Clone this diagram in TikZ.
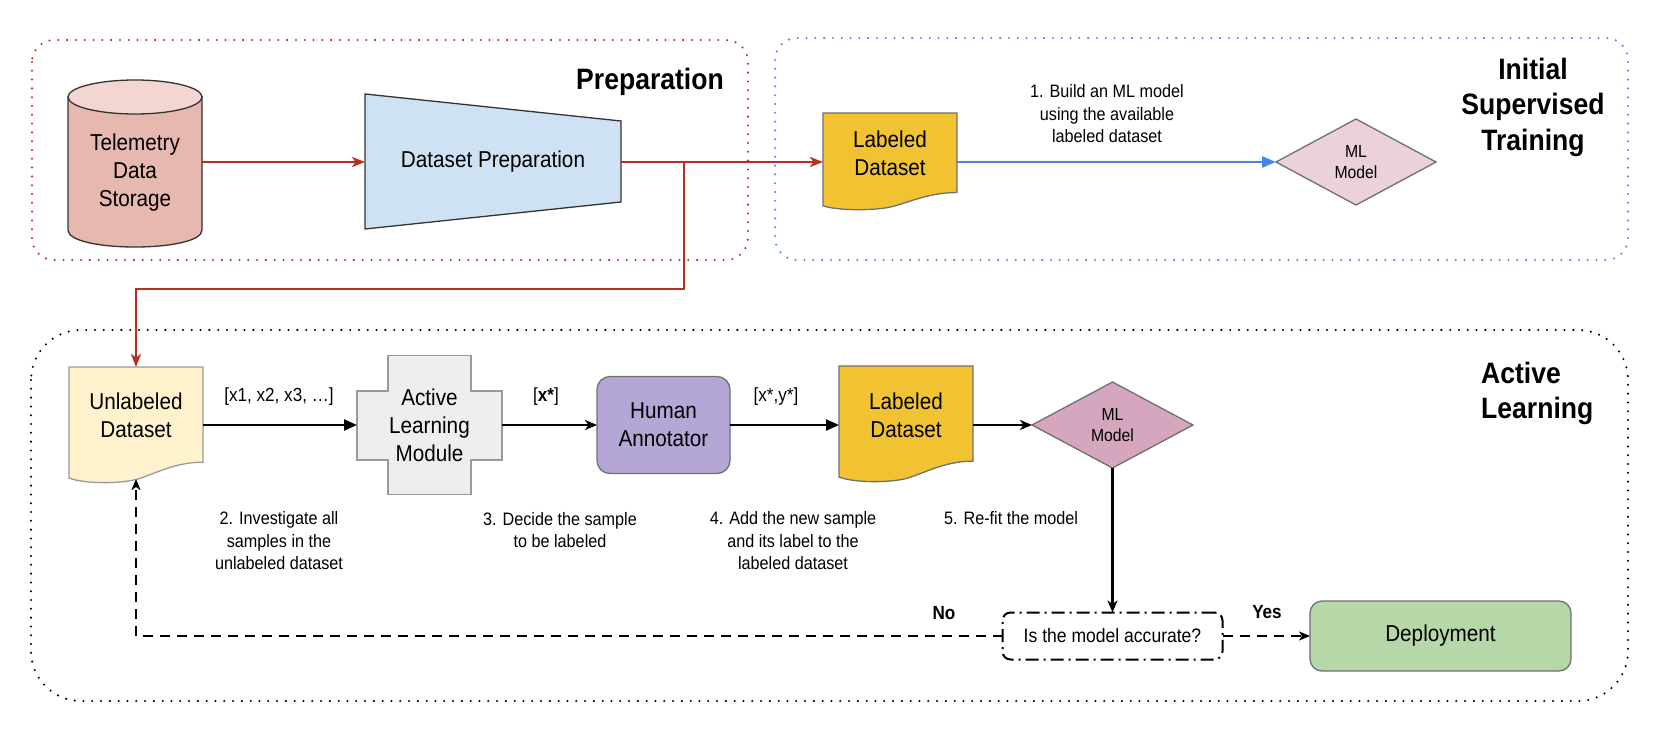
\documentclass[tikz,border=0pt]{standalone}
\usepackage{fontspec}
\setmainfont{Liberation Sans}[FakeStretch=0.9]
\usetikzlibrary{arrows.meta}
\definecolor{redc}{HTML}{B5301F}
\definecolor{bluec}{HTML}{4A86E8}
\definecolor{cylbody}{HTML}{E6B8AF}
\definecolor{cyltop}{HTML}{F3D6D1}
\definecolor{trapfill}{HTML}{CFE2F3}
\definecolor{labfill}{HTML}{F1C232}
\definecolor{unlabfill}{HTML}{FFF2CC}
\definecolor{mlone}{HTML}{EAD1DC}
\definecolor{mltwo}{HTML}{D5A6BD}
\definecolor{almfill}{HTML}{EEEEEE}
\definecolor{hafill}{HTML}{B4A7D6}
\definecolor{depfill}{HTML}{B6D7A8}
\definecolor{edgegray}{HTML}{707070}
\definecolor{lightedge}{HTML}{9A9A9A}

\newcommand{\mydoc}[5]{\draw[#5] (#1,#2) -- ({#1+#3},#2) -- ({#1+#3},{#2+0.82*#4}) .. controls ({#1+0.78*#3},{#2+0.82*#4}) and ({#1+0.62*#3},{#2+0.934*#4}) .. ({#1+0.5*#3},{#2+0.97*#4}) .. controls ({#1+0.38*#3},{#2+1.006*#4}) and ({#1+0.12*#3},{#2+1.01*#4}) .. (#1,{#2+0.957*#4}) -- cycle;}

\begin{document}
\begin{tikzpicture}[x=1pt, y=-1pt,
  box/.style 2 args={draw=none, inner sep=0pt, outer sep=0pt, minimum width=#1pt, minimum height=#2pt},
  nodetxt/.style={font=\fontsize{23}{28}\selectfont, align=center, inner sep=0pt},
  smalltxt/.style={font=\fontsize{17.5}{21.5}\selectfont, align=center, inner sep=0pt},
  steptxt/.style={font=\fontsize{18}{22.5}\selectfont, align=center, inner sep=0pt},
  edgetxt/.style={font=\fontsize{19}{23}\selectfont, inner sep=0pt},
  yesno/.style={font=\bfseries\fontsize{19}{23}\selectfont, inner sep=0pt},
  titletxt/.style={font=\bfseries\fontsize{29.5}{35.5}\selectfont, inner sep=0pt},
  dotbox/.style={line width=2.3pt, line cap=round, dash pattern=on 0pt off 8.8pt},
  shapeline/.style={line width=1.3pt},
  redconn/.style={draw=redc, line width=2.5pt, -{Stealth[length=13pt,width=10pt,inset=3.5pt]}},
  blueconn/.style={draw=bluec, line width=2.8pt, -{Triangle[length=14pt,width=11pt]}},
  blockconn/.style={line width=2.3pt, -{Triangle[length=13pt,width=11pt]}},
  openconn/.style={line width=2.3pt, -{Stealth[length=12pt,width=10pt,inset=3.5pt]}},
  dashconn/.style={line width=2.2pt, dash pattern=on 10pt off 7pt, -{Stealth[length=11pt,width=9pt,inset=3pt]}}
]
\fill[white] (0,0) rectangle (1664,738);
\useasboundingbox (0,0) rectangle (1664,738);

% group boxes
\draw[dotbox, draw=redc, rounded corners=22pt] (32,40) rectangle (748,260);
\draw[dotbox, draw=bluec, rounded corners=22pt] (775,38) rectangle (1628,260);
\draw[dotbox, draw=black, rounded corners=50pt] (31,330) rectangle (1628,701);

% cylinder
\draw[shapeline, draw=black!80, fill=cylbody] (68,97) -- (68,230) .. controls (68,252.67) and (202,252.67) .. (202,230) -- (202,97) -- cycle;
\draw[shapeline, draw=black!80, fill=cyltop] (135,97) ellipse [x radius=67pt, y radius=17pt];

% trapezoid
\draw[shapeline, draw=black!80, fill=trapfill] (365,94) -- (621,121) -- (621,202) -- (365,229) -- cycle;

% documents
\mydoc{823}{113}{134}{97}{shapeline, draw=edgegray, fill=labfill}
\mydoc{69}{367}{134}{116}{shapeline, draw=lightedge, fill=unlabfill}
\mydoc{839}{366}{134}{116}{shapeline, draw=edgegray, fill=labfill}

% diamonds
\draw[shapeline, draw=edgegray, fill=mlone] (1276,162) -- (1356,119) -- (1436,162) -- (1356,205) -- cycle;
\draw[shapeline, draw=edgegray, fill=mltwo] (1032,425) -- (1112.5,382) -- (1193,425) -- (1112.5,468) -- cycle;

% cross (active learning module)
\draw[shapeline, draw=lightedge, fill=almfill] (388,355.5) -- (471,355.5) -- (471,391) -- (502,391) -- (502,460) -- (471,460) -- (471,494.5) -- (388,494.5) -- (388,460) -- (357,460) -- (357,391) -- (388,391) -- cycle;

% nodes
\node[box={134}{166}] (tds) at (135,162) {};
\node[nodetxt] (tdst) at (135,173) {Telemetry\\Data\\Storage};
\node[box={256}{135}, nodetxt] (dp) at (493,162) {Dataset Preparation};
\node[box={134}{98}] (ld1) at (890,162) {};
\node[nodetxt] (ld1t) at (890,153) {Labeled\\Dataset};
\node[box={160}{86}, smalltxt] (ml1) at (1356,162) {ML\\Model};

\node[box={134}{116}] (ul) at (136,425) {};
\node[nodetxt] (ult) at (136,415.5) {Unlabeled\\Dataset};
\node[box={145}{139}, nodetxt] (alm) at (429.5,425) {Active\\Learning\\Module};
\node[box={133}{97}, nodetxt, draw=edgegray, fill=hafill, rounded corners=13pt, line width=1.3pt] (ha) at (663.5,425) {Human\\Annotator};
\node[box={134}{118}] (ld2) at (906,425) {};
\node[nodetxt] (ld2t) at (906,415) {Labeled\\Dataset};
\node[box={161}{86}, smalltxt] (ml2) at (1112.5,425) {ML\\Model};
\node[box={220}{47}, draw=black, fill=white, rounded corners=8pt, line width=2pt, dash pattern=on 13pt off 5pt on 2pt off 5pt, font=\fontsize{19.5}{23}\selectfont] (dec) at (1112.5,636) {Is the model accurate?};
\node[box={261}{70}, nodetxt, draw=edgegray, fill=depfill, rounded corners=12pt, line width=1.3pt] (dep) at (1440.5,636) {Deployment};

% titles
\node[titletxt] (tprep) at (650,82) {Preparation};
\node[titletxt, align=center] (tist) at (1533,107) {Initial\\Supervised\\Training};
\node[titletxt, align=left, anchor=west] (tal) at (1481,393.5) {Active\\Learning};

% labels
\node[steptxt] (s1) at (1107,114) {1. Build an ML model\\using the available\\labeled dataset};
\node[steptxt] (s2) at (279,541) {2. Investigate all\\samples in the\\unlabeled dataset};
\node[steptxt] (s3) at (560,530) {3. Decide the sample\\to be labeled};
\node[steptxt] (s4) at (793,541) {4. Add the new sample\\and its label to the\\labeled dataset};
\node[steptxt] (s5) at (1011,518) {5. Re-fit the model};
\node[edgetxt] (e1) at (279,397) {[x1, x2, x3, …]};
\node[edgetxt] (e2) at (546,397) {[\textbf{x*}]};
\node[edgetxt] (e3) at (776,397) {[x*,y*]};
\node[yesno] (no) at (944,613) {No};
\node[yesno] (yes) at (1267,612) {Yes};

% connectors
\draw[redconn] (tds.east) -- (dp.west);
\draw[redconn] (dp.east) -- (ld1.west);
\coordinate (j1) at (684,162);
\coordinate (j2) at (684,289);
\draw[redconn] (j1) -- (j2) -| (ul.north);
\draw[blueconn] (ld1.east) -- (ml1.west);

\draw[blockconn] (ul.east) -- (alm.west);
\draw[openconn] (alm.east) -- (ha.west);
\draw[blockconn] (ha.east) -- (ld2.west);
\draw[openconn] (ld2.east) -- (ml2.west);
\draw[openconn] (ml2.south) -- (dec.north);
\draw[dashconn] (dec.east) -- (dep.west);
\draw[dashconn] (dec.west) -- (dec.west -| ul.south) -- ([yshift=4pt]ul.south);
\end{tikzpicture}
\end{document}
